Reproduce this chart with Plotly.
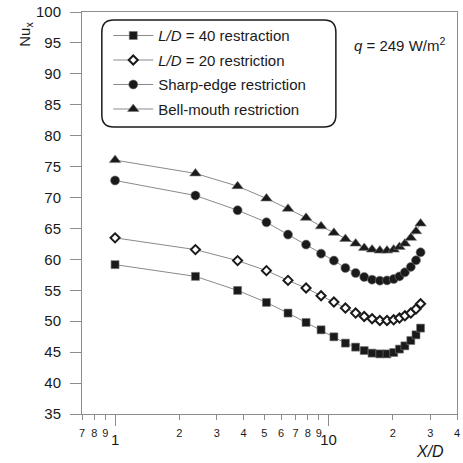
import math
import plotly.graph_objects as go

# Axial position X/D (log scale)
xd = [1.0, 2.38, 3.75, 5.12, 6.46, 7.85, 9.23, 10.6, 12.0, 13.4,
      14.7, 16.0, 17.4, 18.8, 20.2, 21.5, 22.8, 24.3, 25.7, 27.0]

# Local Nusselt number for each inlet configuration
nu_ld40 = [59.15, 57.25, 54.98, 53.04, 51.32, 49.80, 48.61, 47.48, 46.46, 45.81,
           45.26, 44.84, 44.72, 44.72, 44.94, 45.49, 46.02, 46.88, 47.80, 48.89]
nu_ld20 = [63.48, 61.58, 59.80, 58.18, 56.60, 55.37, 54.12, 53.10, 52.13, 51.32,
           50.77, 50.40, 50.12, 50.12, 50.23, 50.51, 50.88, 51.32, 51.97, 52.83]
nu_sharp = [72.76, 70.33, 67.95, 66.00, 64.01, 62.39, 60.93, 59.80, 58.61, 57.80,
            57.15, 56.72, 56.56, 56.60, 56.83, 57.25, 57.90, 58.78, 59.85, 61.14]
nu_bell = [76.05, 73.90, 71.84, 69.85, 68.18, 66.72, 65.36, 64.29, 63.31, 62.55,
           61.86, 61.58, 61.42, 61.42, 61.58, 62.02, 62.55, 63.48, 64.55, 65.79]

series_names = ["<i>L/D</i> = 40 restraction", "<i>L/D</i> = 20 restriction",
                "Sharp-edge restriction", "Bell-mouth restriction"]

# Axis ticks
y_ticks = list(range(35, 101, 5))
x_minor_vals = [0.7, 0.8, 0.9, 2, 3, 4, 5, 6, 7, 8, 9, 20, 30, 40]
x_minor_text = ["7", "8", "9", "2", "3", "4", "5", "6", "7", "8", "9", "2", "3", "4"]
x_decade_vals = [1, 10]
x_decade_text = ["1", "10"]
x_range = [0.7, 40]

FONT = "Liberation Sans, Arial, sans-serif"
INK = "#1a1a1a"
GRID = "#8c8c8c"

styles = [
    dict(symbol="square", size=8, color=INK, line=dict(width=0.6, color="#777")),
    dict(symbol="diamond", size=7, color="white", line=dict(width=2, color=INK)),
    dict(symbol="circle", size=9, color=INK, line=dict(width=0.6, color="#777")),
    dict(symbol="triangle-up", size=10, color=INK, line=dict(width=0.6, color="#777")),
]

fig = go.Figure()
for i, (name, vals, mk) in enumerate(zip(series_names,
                                          [nu_ld40, nu_ld20, nu_sharp, nu_bell],
                                          styles)):
    fig.add_trace(go.Scatter(
        x=xd, y=vals, name=name, mode="lines+markers",
        legendgroup=f"g{i}",
        line=dict(color="#8a8a8a", width=1),
        marker=mk,
    ))

# Hidden trace that carries the decade-label axis
fig.add_trace(go.Scatter(
    x=xd, y=nu_ld40, xaxis="x2", mode="markers",
    marker=dict(opacity=0), showlegend=False, hoverinfo="skip",
))

# Rounded legend frame (paper coordinates)
x0, x1, y0, y1 = 0.0529, 0.677, 0.714, 0.980
rx, ry = 0.0317, 0.0299
frame = (f"M {x0+rx},{y1} L {x1-rx},{y1} Q {x1},{y1} {x1},{y1-ry} "
         f"L {x1},{y0+ry} Q {x1},{y0} {x1-rx},{y0} L {x0+rx},{y0} "
         f"Q {x0},{y0} {x0},{y0+ry} L {x0},{y1-ry} Q {x0},{y1} {x0+rx},{y1} Z")

log_range = [math.log10(x_range[0]), math.log10(x_range[1])]

fig.update_layout(
    width=463, height=463,
    margin=dict(l=82, r=3, t=12, b=49),
    paper_bgcolor="white", plot_bgcolor="white",
    font=dict(family=FONT, size=15, color=INK),
    showlegend=True,
    legend=dict(
        x=0.07, y=0.982, xanchor="left", yanchor="top",
        bgcolor="rgba(0,0,0,0)", borderwidth=0,
        font=dict(family=FONT, size=15, color=INK),
        tracegroupgap=2, itemwidth=40,
    ),
    shapes=[dict(type="path", xref="paper", yref="paper", path=frame,
                 line=dict(color=INK, width=1.5), fillcolor="white",
                 layer="below")],
    annotations=[
        dict(text="<i>q</i> = 249 W/m<sup>2</sup>", xref="paper", yref="paper",
             x=0.846, y=0.918, xanchor="center", yanchor="middle",
             showarrow=False, font=dict(family=FONT, size=15, color=INK)),
        dict(text="<i>X/D</i>", xref="paper", yref="paper",
             x=0.929, y=-0.0945, xanchor="center", yanchor="middle",
             showarrow=False, font=dict(family=FONT, size=16, color=INK)),
        dict(text="Nu<sub>x</sub>", xref="paper", yref="paper",
             x=-0.153, y=0.945, xanchor="center", yanchor="middle",
             showarrow=False, textangle=-90,
             font=dict(family=FONT, size=15, color=INK)),
    ],
    xaxis=dict(
        type="log", range=log_range,
        tickmode="array", tickvals=x_minor_vals, ticktext=x_minor_text,
        tickangle=0, ticks="outside", ticklen=5, tickcolor=GRID,
        showline=True, linecolor=GRID, linewidth=1, mirror=True,
        showgrid=False, zeroline=False,
        tickfont=dict(family=FONT, size=11, color=INK),
        ticklabelstandoff=4, ticklabeloverflow="allow",
    ),
    xaxis2=dict(
        type="log", range=log_range, overlaying="x", anchor="y", side="bottom",
        tickmode="array", tickvals=x_decade_vals, ticktext=x_decade_text,
        tickangle=0, ticks="outside", ticklen=11, tickcolor=GRID,
        showline=False, showgrid=False, zeroline=False,
        tickfont=dict(family=FONT, size=15, color=INK),
        ticklabelstandoff=1,
    ),
    yaxis=dict(
        range=[35, 100], tickmode="array", tickvals=y_ticks,
        ticks="outside", ticklen=11, tickcolor=GRID,
        showline=True, linecolor=GRID, linewidth=1, mirror=True,
        showgrid=False, zeroline=False,
        tickfont=dict(family=FONT, size=15, color=INK),
        ticklabelstandoff=6,
    ),
)

fig.write_html("out.html")
